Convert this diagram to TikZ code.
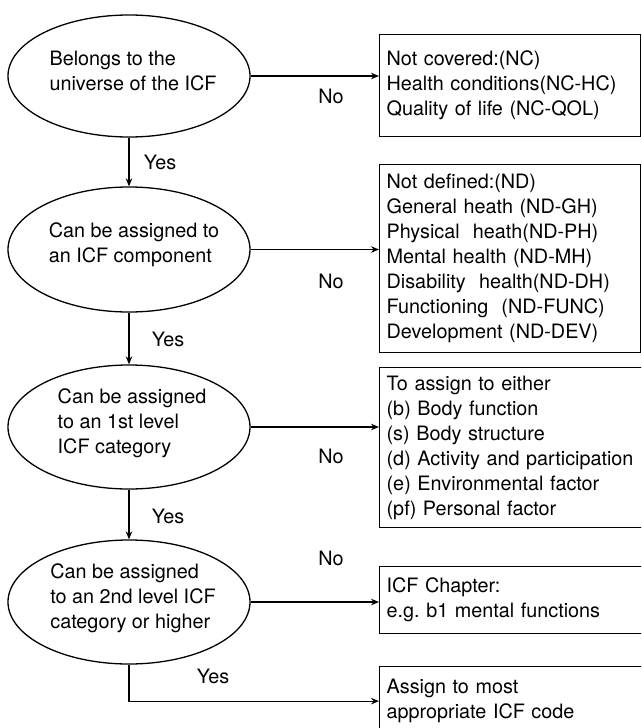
\documentclass[tikz,border=0pt]{standalone}
\usepackage{fontspec}
\setmainfont{TeX Gyre Heros}
\usetikzlibrary{shapes.geometric,arrows.meta}
\tikzset{
  decision/.style={draw, line width=1.3pt, ellipse, inner sep=0pt},
  dtext/.style={align=left, inner sep=0pt, font=\fontsize{19.8}{25}\selectfont},
  outbox/.style={draw, line width=1.3pt, rectangle, anchor=north west, align=left,
    inner xsep=7pt, inner ysep=0pt, font=\fontsize{19.8}{25}\selectfont},
  lbl/.style={inner sep=0pt, font=\fontsize{19.8}{25}\selectfont},
  conn/.style={line width=1.3pt, -{Stealth[length=8pt,width=6.5pt]}},
}
\frenchspacing
\begin{document}
\begin{tikzpicture}[x=1pt,y=-1pt]
\useasboundingbox (0,0) rectangle (641,728);
\fill[white] (0,0) rectangle (641,728);
\clip (0,0) rectangle (641,728);

% decisions
\node[decision, minimum width=242pt, minimum height=122pt] (e1) at (129,76) {};
\node[dtext] (t1) at (133,71) {Belongs to the\\universe of the ICF};
\node[decision, minimum width=242pt, minimum height=125pt] (e2) at (129,249.5) {};
\node[dtext] (t2) at (134,245) {Can be assigned to\\an ICF component};
\node[decision, minimum width=242pt, minimum height=124pt] (e3) at (129,427) {};
\node[dtext] (t3) at (132,423) {Can be assigned\\to an 1st level\\ICF category};
\node[decision, minimum width=242pt, minimum height=124pt] (e4) at (129,602) {};
\node[dtext] (t4) at (133,598) {Can be assigned\\to an 2nd level ICF\\category or higher};

% outcome boxes
\node[outbox, text width=247pt, minimum height=102pt] (b1) at (379,34)
 {Not covered:(NC)\\Health conditions(NC-HC)\\Quality of life (NC-QOL)};
\node[outbox, text width=247pt, minimum height=188pt] (b2) at (379,164)
 {Not defined:(ND)\\General heath (ND-GH)\\Physical\ \ heath(ND-PH)\\Mental health (ND-MH)\\Disability\ \ health(ND-DH)\\Functioning\ \ (ND-FUNC)\\Development (ND-DEV)};
\node[outbox, text width=255pt, minimum height=160pt] (b3) at (379,367)
 {To assign to either\\(b) Body function\\(s) Body structure\\(d) Activity and participation\\(e) Environmental factor\\(pf) Personal factor};
\node[outbox, text width=255pt, minimum height=67pt] (b4) at (379,566)
 {ICF Chapter:\\e.g. b1 mental functions};
\node[outbox, text width=255pt, minimum height=69pt] (b5) at (379,666)
 {Assign to most\\appropriate ICF code};

% connectors
\draw[conn] (e1.east) -- (e1.east -| b1.west);
\draw[conn] (e2.east) -- (e2.east -| b2.west);
\draw[conn] (e3.east) -- (e3.east -| b3.west);
\draw[conn] (e4.east) -- (e4.east -| b4.west);
\draw[conn] (e1.south) -- (e2.north);
\draw[conn] (e2.south) -- (e3.north);
\draw[conn] (e3.south) -- (e4.north);
\draw[conn] (e4.south) |- (b5.west);

% labels
\node[lbl] (n1) at (331,96) {No};
\node[lbl] (n2) at (331,281) {No};
\node[lbl] (n3) at (331,456) {No};
\node[lbl] (n4) at (331,558) {No};
\node[lbl] (y1) at (160,162) {Yes};
\node[lbl] (y2) at (168,339) {Yes};
\node[lbl] (y3) at (168,516) {Yes};
\node[lbl] (y4) at (213,676) {Yes};
\end{tikzpicture}
\end{document}
